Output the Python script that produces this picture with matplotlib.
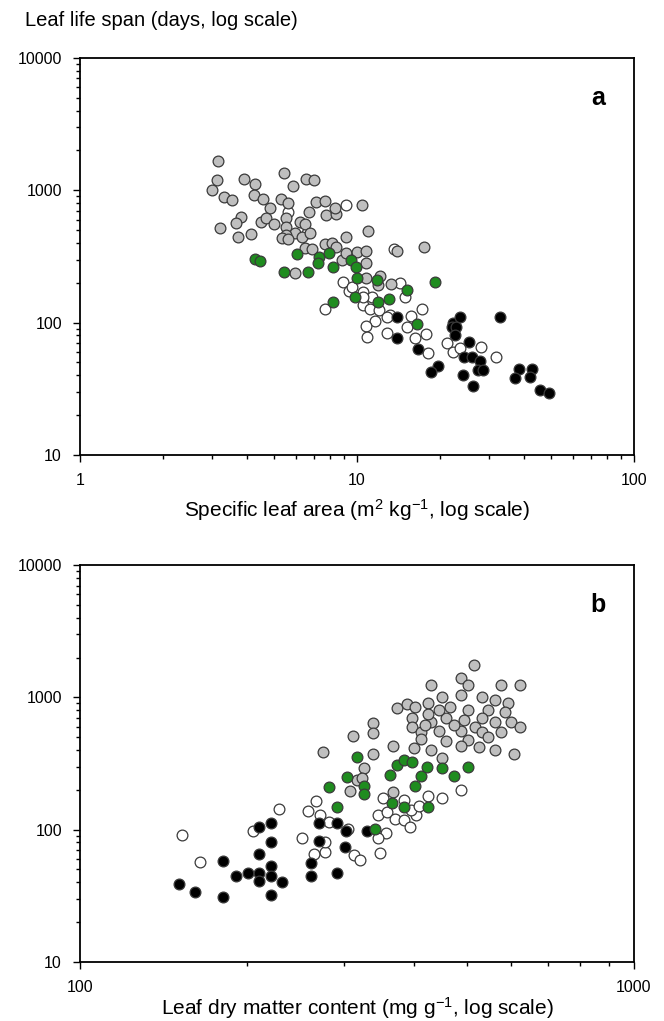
import numpy as np
import matplotlib.pyplot as plt
from matplotlib.ticker import LogLocator, NullFormatter

plt.rcParams['font.family'] = ['Liberation Sans', 'DejaVu Sans']
plt.rcParams['mathtext.fontset'] = 'custom'
plt.rcParams['mathtext.rm'] = 'Liberation Sans'
plt.rcParams['mathtext.it'] = 'Liberation Sans:italic'

# ---- panel a: specific leaf area (m2 kg-1) vs leaf life span (days) ----
sla_gray = [3.15, 3.12, 3.0, 3.9, 4.3, 5.46, 5.86, 6.54, 6.98, 3.31, 3.53, 4.25, 4.59, 4.86, 5.31,
            5.64, 6.73, 7.14, 7.66, 7.75, 8.37, 8.33, 10.4, 3.82, 3.65, 3.2, 3.71, 4.14, 4.51, 4.7,
            5.0, 5.56, 5.56, 6.23, 6.5, 5.97, 5.56, 5.37, 5.64, 6.32, 6.77, 9.1, 7.66, 8.1, 6.5,
            6.88, 8.4, 8.83, 9.15, 10.0, 5.97, 11.0, 17.5, 14.0, 10.8, 10.8, 12.1, 13.3, 11.9, 10.8]
lls_gray_a = [1670, 1200, 1005, 1220, 1110, 1340, 1080, 1210, 1200, 885, 845, 920, 860, 730, 860,
              805, 680, 815, 830, 655, 660, 735, 775, 625, 565, 515, 445, 467, 575, 620,
              553, 615, 525, 580, 553, 473, 459, 434, 428, 446, 473, 446, 392, 398, 368,
              362, 375, 297, 334, 340, 236, 492, 375, 348, 348, 283, 225, 196, 193, 216]

sla_white = [9.1, 13.6, 5.64, 6.6, 8.87, 9.36, 10.5, 11.3, 10.5, 11.1, 12.0, 14.3, 14.9, 17.1, 13.2,
             12.8, 11.6, 10.8, 12.8, 15.1, 10.9, 16.2, 17.8, 21.1, 18.1, 7.66, 15.7, 22.3, 23.5,
             28.0, 31.7, 10.5, 9.6]
lls_white_a = [770, 360, 690, 473, 204, 173, 170, 155, 136, 126, 124, 198, 157, 126, 114,
               110, 102, 94, 83, 92, 78, 77, 82, 70, 59, 126, 112, 60, 64,
               65, 55, 157, 185]

sla_black = [14.0, 14.0, 16.6, 22.3, 23.5, 22.0, 22.8, 22.5, 25.3, 24.3, 26.0, 27.8, 27.4, 28.6,
             19.6, 18.5, 24.1, 26.3, 32.7, 38.5, 37.3, 42.7, 42.1, 45.8, 49.4]
lls_black_a = [110, 77, 63, 99, 111, 93, 93, 81, 71, 55, 55, 51, 44, 44,
               47, 42, 40, 33, 110, 45, 38, 45, 39, 31, 29.5]

sla_green = [4.28, 4.47, 5.46, 6.68, 6.06, 7.3, 7.25, 7.94, 8.2, 9.5, 9.9, 10.0, 8.2, 11.8,
             19.1, 15.1, 13.1, 11.9, 9.8, 16.4]
lls_green_a = [301, 292, 243, 243, 330, 312, 280, 334, 262, 297, 265, 216, 144, 210,
               204, 178, 150, 144, 155, 98]

# ---- panel b: leaf dry matter content (mg g-1) vs leaf life span (days) ----
ldmc_gray = [275, 311, 338, 338, 338, 326, 316, 323, 307, 368, 373, 389, 402, 398, 398, 413, 413,
             400, 368, 425,
             515, 487, 430, 502, 622, 576, 451, 487, 531, 561, 592, 465, 502, 546, 584, 531, 494,
             458, 430, 561, 599, 622, 516, 487, 444, 531, 576, 546, 502, 458, 487, 524, 561, 607,
             430, 451, 420, 473, 444, 425]
lls_gray_b = [388, 510, 636, 535, 373, 291, 237, 244, 197, 428, 825, 890, 848, 698, 593, 550, 483,
              412, 193, 900,
              1750, 1400, 1250, 1250, 1250, 1250, 1000, 1050, 1000, 950, 900, 850, 800, 800, 780,
              700, 680, 700, 650, 650, 650, 600, 600, 560, 560, 550, 550, 500, 480, 470, 430, 420,
              400, 370, 400, 350, 620, 620, 800, 750]

ldmc_white = [153, 165, 205, 229, 258, 267, 271, 282, 305, 252, 265, 277, 277, 312, 320, 345, 358,
              370, 384, 394, 404, 348, 357, 345, 353, 384, 487, 451, 425, 395, 410]
lls_white_b = [91, 57, 98, 144, 139, 165, 129, 115, 102, 86, 66, 68, 81, 64, 59, 129, 136,
               121, 118, 105, 129, 67, 94, 86, 172, 167, 200, 175, 180, 140, 150]

ldmc_black = [151, 161, 181, 181, 191, 201, 210, 221, 221, 210, 221, 210, 210, 221, 232, 221, 261,
              261, 270, 270, 291, 302, 330, 301, 291]
lls_black_b = [39, 34, 58, 31, 45, 47, 105, 112, 80, 65, 53, 47, 41, 45, 40, 32, 56,
               45, 112, 82, 112, 97, 97, 74, 47]

ldmc_green = [316, 303, 326, 326, 281, 291, 363, 373, 384, 398, 413, 402, 423, 365, 384, 425, 341,
              451, 473, 502]
lls_green_b = [352, 251, 213, 185, 209, 148, 258, 308, 336, 327, 255, 213, 299, 160, 148, 148, 102,
               290, 255, 300]

GRAY = '#bfbfbf'
GREEN = '#1f8c1f'
EDGE = '#3a3a3a'

fig = plt.figure(figsize=(6.64, 10.21), dpi=100)
ax_a = fig.add_axes([0.1205, 0.5544, 0.8343, 0.3888])
ax_b = fig.add_axes([0.1205, 0.0578, 0.8343, 0.3888])


def draw(ax, x_w, y_w, x_g, y_g, x_k, y_k, x_gr, y_gr):
    kw = dict(s=60, edgecolors=EDGE, linewidths=0.9)
    ax.scatter(x_w, y_w, c='white', zorder=2, **kw)
    ax.scatter(x_g, y_g, c=GRAY, zorder=3, **kw)
    ax.scatter(x_k, y_k, c='black', zorder=4, **kw)
    ax.scatter(x_gr, y_gr, c=GREEN, zorder=5, **kw)


def style(ax, xlim, xticks, letter):
    ax.set_xscale('log')
    ax.set_yscale('log')
    ax.set_xlim(*xlim)
    ax.set_ylim(10, 10000)
    ax.set_xticks(xticks)
    ax.set_xticklabels([str(t) for t in xticks])
    ax.set_yticks([10, 100, 1000, 10000])
    ax.set_yticklabels(['10', '100', '1000', '10000'])
    for axis in (ax.xaxis, ax.yaxis):
        axis.set_minor_locator(LogLocator(base=10, subs=range(2, 10)))
        axis.set_minor_formatter(NullFormatter())
    ax.tick_params(which='major', direction='out', length=5, width=1, labelsize=11.5, pad=8)
    ax.tick_params(which='minor', direction='out', length=3, width=1)
    for sp in ax.spines.values():
        sp.set_linewidth(1.3)
    ax.text(0.935, 0.9, letter, transform=ax.transAxes, fontsize=18, fontweight='bold',
            ha='center', va='center')


draw(ax_a, sla_white, lls_white_a, sla_gray, lls_gray_a, sla_black, lls_black_a,
     sla_green, lls_green_a)
draw(ax_b, ldmc_white, lls_white_b, ldmc_gray, lls_gray_b, ldmc_black, lls_black_b,
     ldmc_green, lls_green_b)

style(ax_a, (1, 100), [1, 10, 100], 'a')
style(ax_b, (100, 1000), [100, 1000], 'b')

fig.text(0.038, 1 - 21 / 1021, 'Leaf life span (days, log scale)', fontsize=14.5, va='center')
fig.text(0.5377, 1 - 510 / 1021, r'Specific leaf area (m$^{2}$ kg$^{-1}$, log scale)',
         fontsize=15, ha='center', va='center')
fig.text(0.5377, 1 - 1008 / 1021, r'Leaf dry matter content (mg g$^{-1}$, log scale)',
         fontsize=15, ha='center', va='center')

fig.savefig('out.png', dpi=100)
